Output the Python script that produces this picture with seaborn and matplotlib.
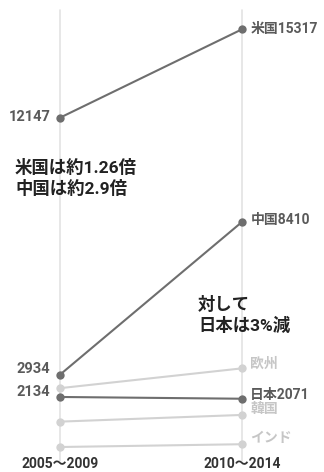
import matplotlib
matplotlib.use("Agg")
import matplotlib.pyplot as plt
import seaborn as sns
import pandas as pd

periods = ["2005〜2009", "2010〜2014"]
countries = ["インド", "韓国", "欧州", "日本", "中国", "米国"]
values_first = [340, 1250, 2450, 2134, 2934, 12147]
values_second = [440, 1490, 3160, 2071, 8410, 15317]
highlight = ["日本", "中国", "米国"]
right_labels = ["インド", "韓国", "欧州", "日本2071", "中国8410", "米国15317"]
left_labels = {"日本": "2134", "中国": "2934", "米国": "12147"}

sns.set_theme(style="white")
plt.rcParams["font.family"] = ["Roboto", "Noto Sans CJK JP", "DejaVu Sans"]

rows = []
for c, a, b in zip(countries, values_first, values_second):
    rows.append({"country": c, "x": 0, "value": a})
    rows.append({"country": c, "x": 1, "value": b})
df = pd.DataFrame(rows)

DARK = "#6e6e6e"
LIGHT = "#d2d2d2"
palette = {c: (DARK if c in highlight else LIGHT) for c in countries}

fig = plt.figure(figsize=(3.24, 4.72), dpi=100)
ax = fig.add_axes([0, 0, 1, 1])
ax.set_xlim(-0.3297, 1.4505)
ax.set_ylim(-556, 16367)
ax.axis("off")

for xv in (0, 1):
    ax.plot([xv, xv], [-150, 16000], color="#e3e3e3", lw=1.2, zorder=0)

sns.lineplot(data=df, x="x", y="value", hue="country", hue_order=countries,
             palette=palette, marker="o", markersize=6, markeredgewidth=0,
             linewidth=1.5, legend=False, ax=ax, sort=False)
for line in ax.get_lines()[2:]:
    if line.get_color() == DARK:
        line.set_zorder(3)

right_offsets = {"インド": 4.5, "韓国": 4.3, "欧州": 3.6, "日本": 3, "中国": 1.5, "米国": 0.5}
for c, v, lab in zip(countries, values_second, right_labels):
    col = "#5a5a5a" if c in highlight else "#c6c6c6"
    ax.annotate(lab, (1, v), xytext=(6, right_offsets[c]), textcoords="offset points",
                ha="left", va="center", fontsize=10, fontweight="bold", color=col)

left_offsets = {"日本": 3.6, "中国": 4, "米国": 0.3}
for c, v in zip(countries, values_first):
    if c in left_labels:
        ax.annotate(left_labels[c], (0, v), xytext=(-7, left_offsets[c]),
                    textcoords="offset points", ha="right", va="center",
                    fontsize=10.5, fontweight="bold", color="#5a5a5a")

for i, p in enumerate(periods):
    ax.annotate(p, (i, -556), xytext=(0, 6), textcoords="offset points",
                ha="center", va="center", fontsize=10, fontweight="bold",
                color="#333333")

fig.text(15 / 324, 1 - 178 / 472, "米国は約1.26倍\n中国は約2.9倍", ha="left", va="center",
         fontsize=12.5, fontweight="bold", color="#222222", linespacing=1.25)
fig.text(198 / 324, 1 - 315 / 472, "対して\n日本は3%減", ha="left", va="center",
         fontsize=12.5, fontweight="bold", color="#222222", linespacing=1.2)

fig.savefig("out.png", dpi=100)
